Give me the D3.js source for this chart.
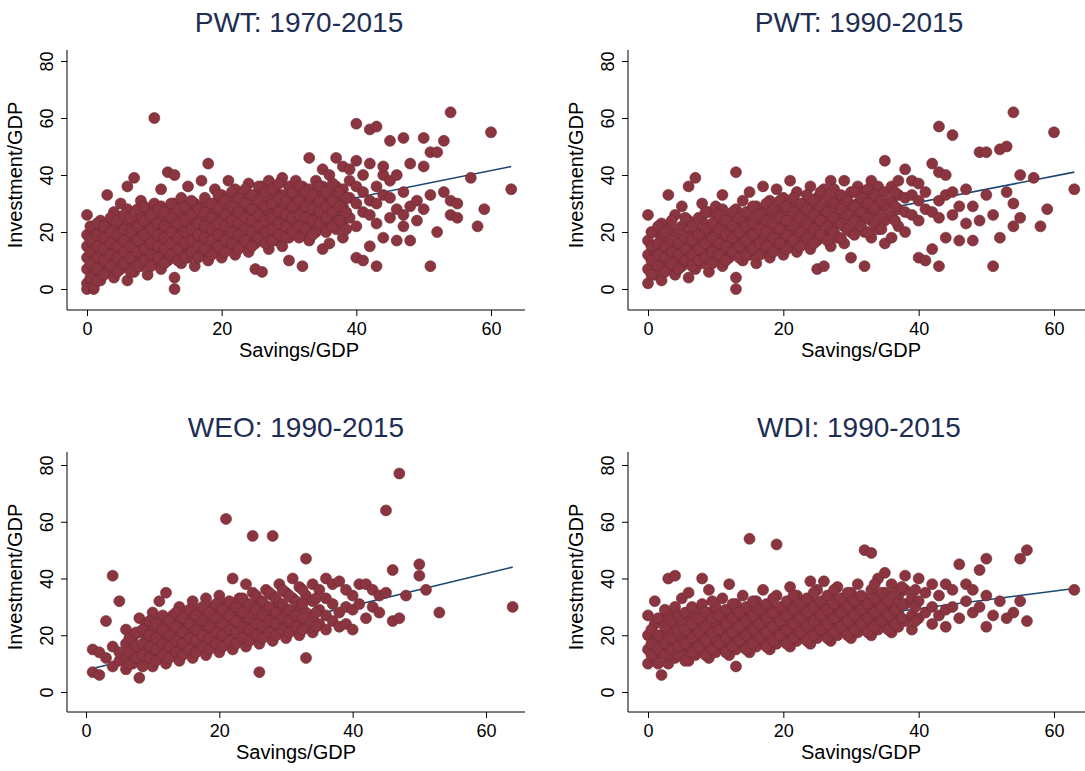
<!DOCTYPE html>
<html><head><meta charset="utf-8">
<script src="https://cdn.jsdelivr.net/npm/d3@7"></script>
<style>body{margin:0;background:#fff}text{font-family:Arial,"Liberation Sans",sans-serif}</style>
</head><body>
<svg id="c" width="1085" height="771"></svg>
<script>
// Data: [savings/GDP, [investment/GDP values]]
const pwt7015 = [[0,[2,7,11,15,19,26,0]],[1,[0,5,9,13,17,21,1]],[2,[3,8,12,16,20,24]],[3,[6,10,14,18,22,33]],[4,[4,9,13,17,21,27]],[5,[7,11,15,19,23,30]],[6,[3,9,13,17,22,28,36]],[7,[6,11,15,19,24,39]],[8,[8,12,16,21,26,31]],[9,[5,10,14,18,23,28]],[10,[9,13,17,21,25,30,60]],[11,[7,11,16,20,24,29,35]],[12,[10,14,18,22,27,41]],[13,[0,4,12,16,20,25,30,40]],[14,[9,13,18,22,26,32]],[15,[11,15,19,23,28,36]],[16,[8,13,17,21,25,30]],[17,[12,16,20,24,29,38]],[18,[10,14,19,23,27,44]],[19,[13,17,21,25,30,35]],[20,[11,15,19,24,28,33]],[21,[14,18,22,26,31,38]],[22,[12,16,21,25,29,35]],[23,[15,19,23,27,32]],[24,[13,17,22,26,30,37]],[25,[7,16,20,24,28,33]],[26,[6,18,22,26,30,36]],[27,[14,19,23,27,32,38]],[28,[17,21,25,29,34]],[29,[15,20,24,28,33,39]],[30,[10,18,22,27,31,36]],[31,[20,24,28,33,38]],[32,[8,19,23,27,31,36]],[33,[17,22,26,30,35,46]],[34,[20,25,29,33,38]],[35,[14,22,27,31,36,42]],[36,[16,24,29,33,40]],[37,[21,26,31,36,46]],[38,[18,24,29,35,43]],[39,[25,32,38,42]],[40,[11,22,30,36,45,58]],[41,[10,27,34,40]],[42,[15,26,31,44,56]],[43,[8,23,30,36,57]],[44,[18,33,40,43]],[45,[25,32,38,52]],[46,[17,28,40]],[47,[22,26,34,53]],[48,[17,29,44]],[49,[24,31]],[50,[43,53,28]],[51,[8,33,48]],[52,[20,48]],[53,[34,52]],[54,[26,62,31]],[55,[25,30]],[57,[39]],[58,[22]],[59,[28]],[60,[55]],[63,[35]],
 [0.5,[4,9,13,17,22]],[1.5,[3,7,11,15,19,23]],[2.5,[5,10,14,18,22]],[3.5,[8,12,16,20,25]],[4.5,[6,11,15,19,24]],[5.5,[9,13,17,21,26]],[6.5,[6,11,15,20,25]],[7.5,[8,13,17,22,28]],[8.5,[10,14,19,24,29]],[9.5,[8,12,16,21,26]],[10.5,[11,15,19,23,28]],[11.5,[9,14,18,22,27]],[12.5,[12,16,20,25,30]],[13.5,[10,14,18,23,28]],[14.5,[11,16,20,24,29]],[15.5,[13,17,21,26,31]],[16.5,[11,15,19,23,28]],[17.5,[14,18,22,27,32]],[18.5,[12,17,21,25,30]],[19.5,[15,19,23,28,33]],[20.5,[13,17,22,26,31]],[21.5,[16,20,24,29,34]],[22.5,[14,19,23,27,32]],[23.5,[17,21,25,30,35]],[24.5,[15,20,24,28,33]],[25.5,[18,22,26,31,36]],[26.5,[16,20,24,29,34]],[27.5,[17,21,25,30,35]],[28.5,[19,23,27,32,37]],[29.5,[18,22,26,31]],[30.5,[20,25,29,34]],[31.5,[18,22,26,31,36]],[32.5,[21,25,29,34]],[33.5,[19,24,28,33]],[34.5,[23,27,31,36]],[35.5,[20,25,29,34]],[36.5,[22,27,31,37]],[37.5,[24,29,34]],[38.5,[21,27,32]]];
const pwt9015 = [[0,[2,7,12,17,26]],[1,[5,10,14,20]],[2,[3,9,13,18,23]],[3,[7,11,15,21,33]],[4,[5,10,14,19,26]],[5,[8,12,16,22,29]],[6,[4,10,14,19,24,36]],[7,[7,12,16,21,39]],[8,[9,13,18,24,30]],[9,[6,11,15,20,27]],[10,[10,14,19,24,29]],[11,[8,12,17,22,28,33]],[12,[11,15,20,25]],[13,[0,4,13,17,22,28,41]],[14,[10,14,19,24,31]],[15,[12,16,21,26,34]],[16,[9,14,18,23,29]],[17,[13,17,22,27,36]],[18,[11,16,20,25,31]],[19,[14,18,23,28,35]],[20,[12,17,21,26,32]],[21,[15,19,24,29,38]],[22,[13,18,22,27,34]],[23,[16,20,25,30]],[24,[14,19,23,28,36]],[25,[7,17,22,26,32]],[26,[8,19,24,28,35]],[27,[15,21,25,30,38]],[28,[18,23,27,32]],[29,[16,22,26,31,38]],[30,[11,20,25,29,34]],[31,[21,26,30,36]],[32,[8,20,25,29,34]],[33,[18,24,28,33,38]],[34,[21,27,31,36]],[35,[16,24,29,34,45]],[36,[18,26,31,36]],[37,[22,28,33,38]],[38,[20,27,32,42]],[39,[26,33,38]],[40,[11,24,31,37]],[41,[10,28,34]],[42,[14,27,44]],[43,[8,25,31,57,41]],[44,[18,33,40]],[45,[26,34,54]],[46,[17,29]],[47,[23,35]],[48,[17,29]],[49,[24,48]],[50,[33,48]],[51,[8,26]],[52,[18,49]],[53,[34,50]],[54,[30,62,22]],[55,[25,40]],[57,[39]],[58,[22]],[59,[28]],[60,[55]],[63,[35]],
 [0.5,[5,10,15,20]],[1.5,[8,12,16,22]],[2.5,[6,11,15,20]],[3.5,[9,13,17,24]],[4.5,[7,12,16,21]],[5.5,[10,14,18,25]],[6.5,[8,12,17,22]],[7.5,[10,14,19,25]],[8.5,[11,16,21,27]],[9.5,[9,13,18,23]],[10.5,[12,16,21,26]],[11.5,[10,15,19,24]],[12.5,[13,18,22,27]],[13.5,[11,15,20,25]],[14.5,[12,17,22,27]],[15.5,[14,19,23,29]],[16.5,[12,16,21,26]],[17.5,[15,20,24,30]],[18.5,[13,18,23,28]],[19.5,[16,21,25,31]],[20.5,[14,19,24,29]],[21.5,[17,22,27,32]],[22.5,[15,20,25,30]],[23.5,[18,23,28,33]],[24.5,[16,21,26,31]],[25.5,[19,24,29,34]],[26.5,[17,22,27,32]],[27.5,[20,25,30,35]],[28.5,[18,23,28,33]],[29.5,[21,26,31]],[30.5,[19,24,29,34]],[31.5,[22,27,32]],[32.5,[20,25,30,35]],[33.5,[23,28,33]],[34.5,[21,26,31]],[36.5,[24,29,34]]];
const weo9015 = [[1,[7,15]],[2,[6,14]],[3,[12,25]],[4,[9,41,16]],[5,[11,14,32]],[6,[8,12,17,22]],[7,[10,14,19]],[8,[5,12,16,21,26]],[9,[11,14,18,24]],[10,[9,13,17,22,28]],[11,[12,15,20,25,32]],[12,[10,14,18,23,35]],[13,[13,17,21,27]],[14,[11,15,19,24,30]],[15,[14,18,22,28]],[16,[12,16,21,26,32]],[17,[15,19,23,29]],[18,[13,17,22,27,33]],[19,[16,20,24,30]],[20,[14,18,23,28,34]],[21,[17,21,25,31,61]],[22,[15,20,24,29,40]],[23,[18,22,27,33]],[24,[16,21,26,31,38]],[25,[19,23,28,35,55]],[26,[7,17,22,27,32]],[27,[20,25,30,36]],[28,[18,23,28,34,55]],[29,[21,26,31,38]],[30,[19,24,29,35]],[31,[22,27,33,40]],[32,[20,25,30,37]],[33,[12,23,28,34,47]],[34,[21,26,32,38]],[35,[24,29,36]],[36,[22,27,33,40]],[37,[25,31,38]],[38,[23,28,39]],[39,[24,30,36]],[40,[22,29,34]],[41,[31,38]],[42,[26,38]],[43,[30,36]],[44,[28,34]],[45,[64,35]],[46,[43,25]],[47,[77,26]],[48,[34]],[50,[41,45]],[51,[36]],[53,[28]],[64,[30]],
 [6.5,[10,14,19]],[7.5,[12,16,21]],[8.5,[9,13,17,22]],[9.5,[12,16,20,25]],[10.5,[11,15,19,24]],[11.5,[13,17,22,27]],[12.5,[12,16,20,25]],[13.5,[14,18,23,28]],[14.5,[13,17,21,26]],[15.5,[15,19,24,29]],[16.5,[14,18,22,27]],[17.5,[16,20,25,30]],[18.5,[15,19,23,28]],[19.5,[17,21,26,31]],[20.5,[16,20,24,29]],[21.5,[18,22,27,32]],[22.5,[17,21,25,30]],[23.5,[19,23,28,33]],[24.5,[18,22,26,31]],[25.5,[20,24,29,34]],[26.5,[19,23,27,32]],[27.5,[21,25,30,35]],[28.5,[20,24,28,33]],[29.5,[22,26,31,36]],[30.5,[21,25,29,34]],[31.5,[23,27,32]],[32.5,[22,26,31,36]],[34.5,[23,28,33]]];
const wdi9015 = [[0,[10,20,27,15]],[1,[12,18,24,32]],[2,[6,14,20,26]],[3,[10,16,22,28,40]],[4,[12,18,24,30,41]],[5,[14,19,25,33]],[6,[11,16,21,27,35]],[7,[13,18,23,29]],[8,[15,20,25,31,40]],[9,[12,17,22,28,36]],[10,[14,19,24,30]],[11,[16,21,26,33]],[12,[13,18,23,28,38]],[13,[9,15,20,25,31]],[14,[17,22,27,34]],[15,[14,19,24,29,54]],[16,[16,21,26,32]],[17,[18,23,28,36]],[18,[15,20,25,30]],[19,[17,22,27,34,52]],[20,[19,24,29]],[21,[16,21,26,31,37]],[22,[18,23,28,34]],[23,[20,25,30]],[24,[17,22,27,32,39]],[25,[19,24,29,36]],[26,[21,26,31,39]],[27,[18,23,28,34]],[28,[20,25,30,37]],[29,[22,27,32]],[30,[19,24,29,35]],[31,[21,26,31,38]],[32,[23,28,33,50]],[33,[20,25,30,36,49]],[34,[22,27,32,40]],[35,[24,29,35,42]],[36,[21,26,31,38]],[37,[23,28,34]],[38,[25,31,36,41]],[39,[22,27,33]],[40,[26,32,40]],[41,[28,35]],[42,[24,30,38]],[43,[27,34]],[44,[23,29,38]],[45,[30,36]],[46,[26,45]],[47,[32,38]],[48,[28,36]],[49,[43,30]],[50,[23,47,34]],[51,[27]],[52,[32]],[53,[26]],[54,[28]],[55,[47,32]],[56,[25,50]],[63,[36]],
 [0.5,[13,17,22]],[1.5,[10,15,20,26]],[2.5,[13,17,23,29]],[3.5,[15,19,25]],[4.5,[13,16,21,27]],[5.5,[11,17,22,28]],[6.5,[14,19,24,30]],[7.5,[16,21,26]],[8.5,[13,18,23,28]],[9.5,[15,21,26,32]],[10.5,[17,22,27]],[11.5,[14,19,24,29]],[12.5,[16,21,26,31]],[13.5,[18,23,28]],[14.5,[15,20,25,30]],[15.5,[17,22,27,32]],[16.5,[19,24,29]],[17.5,[16,21,26,31]],[18.5,[18,23,28,33]],[19.5,[20,25,30]],[20.5,[17,22,27,32]],[21.5,[19,24,29,34]],[22.5,[21,26,31]],[23.5,[18,23,28,33]],[24.5,[20,25,30,35]],[25.5,[22,27,32]],[26.5,[19,24,29,34]],[27.5,[21,26,31,36]],[28.5,[23,28,33]],[29.5,[20,25,30,35]],[30.5,[22,27,32]],[31.5,[24,29,34]],[32.5,[21,26,31]],[33.5,[23,28,33,38]],[34.5,[25,30,35]],[35.5,[22,27,32]],[36.5,[24,29,35]],[37.5,[26,31,37]],[39.5,[25,30,36]]];
const fitLines = [[[0,13],[63,43]],[[0,12],[63,41]],[[0.5,8],[64,44]],[[0,17],[63,36.5]]];
const titles = ["PWT: 1970-2015","PWT: 1990-2015","WEO: 1990-2015","WDI: 1990-2015"];
const datasets = [pwt7015,pwt9015,weo9015,wdi9015];
const xTicks = [0,20,40,60], yTicks = [0,20,40,60,80];

const panels = [
 {x:[87,491], y:[289,61], left:67, right:525, bottom:310, top:50, title:22},
 {x:[648,1054], y:[289,61], left:628, right:1085, bottom:310, top:50, title:22},
 {x:[86,486], y:[692,465], left:67, right:525, bottom:712, top:452, title:427},
 {x:[648,1054], y:[692,465], left:628, right:1085, bottom:712, top:452, title:427}
];
const svg = d3.select("#c");
const col = "#8b3540", navy="#1a476f";
panels.forEach((p,i)=>{
  const xs = d3.scaleLinear().domain([0,60]).range(p.x);
  const ys = d3.scaleLinear().domain([0,80]).range(p.y);
  const g = svg.append("g");
  const xa = g.append("g").attr("transform",`translate(0,${p.bottom})`).call(d3.axisBottom(xs).tickValues(xTicks).tickSize(6).tickSizeOuter(0));
  xa.select(".domain").attr("d",`M${p.left},0H${p.right}`);
  xa.selectAll("text").attr("font-size",18).attr("fill","#000").attr("dy","0.9em");
  const ya = g.append("g").attr("transform",`translate(${p.left},0)`).call(d3.axisLeft(ys).tickValues(yTicks).tickSize(6).tickSizeOuter(0));
  ya.select(".domain").attr("d",`M0,${p.bottom}V${p.top}`);
  ya.selectAll("text").attr("font-size",18).attr("fill","#000").attr("x",0).attr("dy",0)
    .attr("transform","translate(-14,0) rotate(-90)").attr("text-anchor","middle");
  g.append("path").attr("d",d3.line().x(d=>xs(d[0])).y(d=>ys(d[1]))(fitLines[i])).attr("stroke",navy).attr("stroke-width",1.6).attr("fill","none");
  const pts = datasets[i].flatMap(([x,arr])=>arr.map(y=>[x,y]));
  g.selectAll("circle").data(pts).join("circle").attr("cx",d=>xs(d[0])).attr("cy",d=>ys(d[1])).attr("r",5.5)
    .attr("fill",col).attr("stroke","#6e2a33").attr("stroke-width",0.6);
  g.append("text").attr("x",(p.x[0]+p.x[1])/2+ (i%2?8:10)).attr("y",p.title+10).attr("text-anchor","middle").attr("font-size",28).attr("fill","#1e2d53").text(titles[i]);
  g.append("text").attr("x",(p.x[0]+p.x[1])/2+ 10).attr("y",p.bottom+47).attr("text-anchor","middle").attr("font-size",20).text("Savings/GDP");
  g.append("text").attr("transform",`translate(${p.left-45},${(p.top+p.bottom)/2-5}) rotate(-90)`).attr("text-anchor","middle").attr("font-size",20).text("Investment/GDP");
});
</script></body></html>
